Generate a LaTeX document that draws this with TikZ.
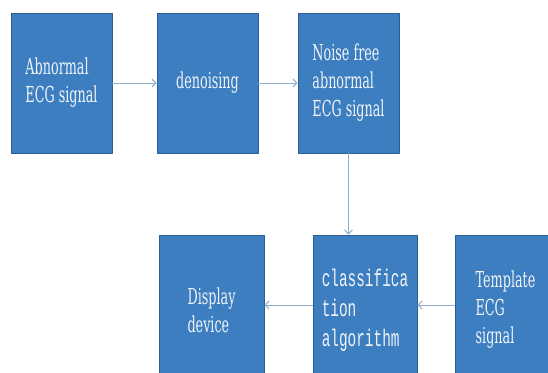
\documentclass[tikz,border=0pt]{standalone}
\usepackage{fontspec}
\setmainfont{DejaVu Serif}[FakeStretch=0.58]
\newfontfamily\blkmono{Liberation Mono}[FakeStretch=0.6]
\usepackage{pgf,tikz}
\usetikzlibrary{arrows.meta}
\definecolor{ccqqbb}{rgb}{0.235,0.494,0.749}
\definecolor{bbqqcc}{rgb}{0.169,0.373,0.576}
\definecolor{ddeeff}{rgb}{0.553,0.686,0.812}
\definecolor{ffffee}{rgb}{0.941,0.957,0.973}
\tikzset{
	blk/.style={draw=bbqqcc,line width=0.8pt,fill=ccqqbb,text=ffffee,align=left,inner sep=0pt,
		minimum width=101pt,minimum height=140pt,font=\fontsize{22}{28}\selectfont},
	lnk/.style={draw=ddeeff,line width=1pt,-{Straight Barb[length=4pt,width=8pt]}}
}

\begin{document}
\begin{tikzpicture}[line cap=round,line join=round,x=1.0pt,y=-1.0pt]
	\clip(0,0) rectangle (548,372);
	% top row
	\node[blk] (abn) at (61.5,83) {Abnormal\\ECG signal};
	\node[blk] (den) at (207.5,83) {denoising};
	\node[blk] (nfree) at (348.5,83) {Noise free\\abnormal\\ECG signal};
	% bottom row, cut off by the clip
	\node[blk,minimum width=105pt,minimum height=150pt] (disp) at (211.5,310) {Display\\device};
	\node[blk,minimum width=104pt,minimum height=150pt,font=\blkmono\fontsize{24}{30}\selectfont] (clas) at (365,310) {classifica\\tion\\algorithm};
	\node[blk,minimum height=150pt] (tmpl) at (505.5,310) {Template\\ECG\\signal};
	\draw[lnk] (abn) -- (den);
	\draw[lnk] (den) -- (nfree);
	\draw[lnk] (nfree.south) -- (nfree.south |- clas.north);
	\draw[lnk] ([yshift=5pt]clas.west) -- ([yshift=5pt]disp.east);
	\draw[lnk] ([yshift=5pt]tmpl.west) -- ([yshift=5pt]clas.east);
\end{tikzpicture}
\end{document}
